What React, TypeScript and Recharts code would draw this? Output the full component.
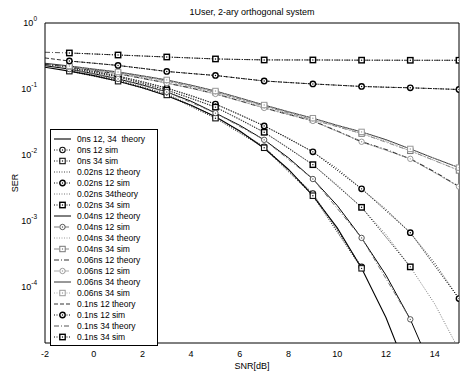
import React from "react";
import { LineChart, Line, XAxis, YAxis, Legend } from "recharts";

const FONT = "'Liberation Sans', Arial, Helvetica, sans-serif";

// SNR grids: theory curves on every dB, simulation on odd dB
const snrTheory = [-2, -1, 0, 1, 2, 3, 4, 5, 6, 7, 8, 9, 10, 11, 12, 13, 14, 15];
const snrSim = [-1, 1, 3, 5, 7, 9, 11, 13, 15];

const xTicks = [-2, 0, 2, 4, 6, 8, 10, 12, 14];
const yTicks = [1e-4, 1e-3, 1e-2, 1e-1, 1];

// 0 ns
const theory0ns = [0.2135, 0.186, 0.159, 0.131, 0.104, 0.079, 0.0565, 0.0377, 0.023, 0.0126, 0.006, 0.0024, 7.8e-4, 1.9e-4, 3.4e-5, 4.0e-6];
const sim0ns12 = [0.192, 0.136, 0.084, 0.038, 0.0133, 0.0026, 2.0e-4];
const sim0ns34 = [0.186, 0.131, 0.081, 0.036, 0.0128, 0.0024, 1.9e-4];

// 0.02 ns
const theory002ns12 = [0.24, 0.215, 0.186, 0.157, 0.13, 0.103, 0.08, 0.059, 0.041, 0.0275, 0.018, 0.0111, 0.0062, 0.00305, 0.0015, 6.6e-4, 2.3e-4, 6.6e-5];
const sim002ns12 = [0.215, 0.157, 0.103, 0.059, 0.0275, 0.0111, 0.00305, 6.6e-4, 6.6e-5];
const theory002ns34 = [0.235, 0.208, 0.18, 0.152, 0.124, 0.096, 0.073, 0.053, 0.035, 0.022, 0.0128, 0.0071, 0.0035, 0.0016, 6.2e-4, 2.0e-4, 5.5e-5, 1.1e-5];
const sim002ns34 = [0.208, 0.152, 0.096, 0.053, 0.022, 0.0071, 0.0016, 2.0e-4];

// 0.04 ns
const theory004ns12 = [0.225, 0.2, 0.17, 0.142, 0.115, 0.09, 0.065, 0.043, 0.028, 0.0169, 0.009, 0.0043, 0.0017, 5.5e-4, 1.5e-4, 3.2e-5, 4.5e-6];
const sim004ns12 = [0.2, 0.142, 0.09, 0.043, 0.0169, 0.0043, 5.5e-4, 3.2e-5];
const theory004ns34 = [0.24, 0.218, 0.196, 0.176, 0.153, 0.132, 0.11, 0.089, 0.07, 0.055, 0.043, 0.034, 0.027, 0.021, 0.016, 0.0115, 0.0082, 0.0058];
const sim004ns34 = [0.218, 0.176, 0.132, 0.089, 0.055, 0.034, 0.021, 0.0115, 0.0058];

// 0.06 ns
const theory006ns12 = [0.235, 0.215, 0.19, 0.169, 0.145, 0.123, 0.103, 0.084, 0.066, 0.0515, 0.041, 0.0327, 0.023, 0.0158, 0.012, 0.0087, 0.0055, 0.0033];
const sim006ns12 = [0.215, 0.169, 0.123, 0.084, 0.0515, 0.0327, 0.0158, 0.0087, 0.0033];
const theory006ns34 = [0.245, 0.223, 0.2, 0.181, 0.158, 0.137, 0.114, 0.093, 0.073, 0.057, 0.045, 0.036, 0.028, 0.0223, 0.017, 0.0123, 0.0088, 0.0064];
const sim006ns34 = [0.223, 0.181, 0.137, 0.093, 0.057, 0.036, 0.0223, 0.0123, 0.0064];

// 0.1 ns
const theory01ns12 = [0.295, 0.265, 0.246, 0.227, 0.205, 0.184, 0.171, 0.16, 0.145, 0.132, 0.125, 0.119, 0.114, 0.109, 0.106, 0.104, 0.101, 0.098];
const sim01ns12 = [0.265, 0.227, 0.184, 0.16, 0.132, 0.119, 0.109, 0.104, 0.098];
const theory01ns34 = [0.36, 0.351, 0.339, 0.327, 0.316, 0.305, 0.295, 0.285, 0.28, 0.276, 0.275, 0.275, 0.274, 0.273, 0.273, 0.272, 0.272, 0.272];
const sim01ns34 = [0.351, 0.327, 0.305, 0.285, 0.275, 0.275, 0.273, 0.272, 0.272];

const DOT = "1 1.5";
const DASHDOT = "5 2 1 2";
const DASH = "4 2";

type Marker = "circle" | "square" | null;
interface Series {
  name: string;
  x: number[];
  y: number[];
  stroke: string;
  width: number;
  dash?: string;
  marker: Marker;
  markerColor?: string;
  markerWidth?: number;
}

const series: Series[] = [
  { name: "0ns 12, 34  theory", x: snrTheory, y: theory0ns, stroke: "#000", width: 1.1, marker: null },
  { name: "0ns 12 sim", x: snrSim, y: sim0ns12, stroke: "#111", width: 1, dash: DOT, marker: "circle", markerColor: "#111", markerWidth: 1.1 },
  { name: "0ns 34 sim", x: snrSim, y: sim0ns34, stroke: "#111", width: 1, dash: DOT, marker: "square", markerColor: "#111", markerWidth: 1.1 },
  { name: "0.02ns 12 theory", x: snrTheory, y: theory002ns12, stroke: "#444", width: 1, dash: DOT, marker: null },
  { name: "0.02ns 12 sim", x: snrSim, y: sim002ns12, stroke: "#000", width: 1, dash: DOT, marker: "circle", markerColor: "#000", markerWidth: 1.4 },
  { name: "0.02ns 34theory", x: snrTheory, y: theory002ns34, stroke: "#777", width: 1, dash: DOT, marker: null },
  { name: "0.02ns 34 sim", x: snrSim, y: sim002ns34, stroke: "#000", width: 1, dash: DOT, marker: "square", markerColor: "#000", markerWidth: 1.4 },
  { name: "0.04ns 12 theory", x: snrTheory, y: theory004ns12, stroke: "#000", width: 1, marker: null },
  { name: "0.04ns 12 sim", x: snrSim, y: sim004ns12, stroke: "#777", width: 1, dash: DASHDOT, marker: "circle", markerColor: "#555", markerWidth: 1 },
  { name: "0.04ns 34 theory", x: snrTheory, y: theory004ns34, stroke: "#999", width: 1, dash: DOT, marker: null },
  { name: "0.04ns 34 sim", x: snrSim, y: sim004ns34, stroke: "#888", width: 1, dash: DASHDOT, marker: "square", markerColor: "#777", markerWidth: 1 },
  { name: "0.06ns 12 theory", x: snrTheory, y: theory006ns12, stroke: "#333", width: 1.2, dash: DASHDOT, marker: null },
  { name: "0.06ns 12 sim", x: snrSim, y: sim006ns12, stroke: "#aaa", width: 1, dash: DASHDOT, marker: "circle", markerColor: "#999", markerWidth: 1 },
  { name: "0.06ns 34 theory", x: snrTheory, y: theory006ns34, stroke: "#333", width: 1, marker: null },
  { name: "0.06ns 34 sim", x: snrSim, y: sim006ns34, stroke: "#aaa", width: 1, dash: DOT, marker: "square", markerColor: "#999", markerWidth: 1 },
  { name: "0.1ns 12 theory", x: snrTheory, y: theory01ns12, stroke: "#333", width: 1, dash: DASH, marker: null },
  { name: "0.1ns 12 sim", x: snrSim, y: sim01ns12, stroke: "#000", width: 1, dash: DOT, marker: "circle", markerColor: "#000", markerWidth: 1.4 },
  { name: "0.1ns 34 theory", x: snrTheory, y: theory01ns34, stroke: "#555", width: 1, dash: DASHDOT, marker: null },
  { name: "0.1ns 34 sim", x: snrSim, y: sim01ns34, stroke: "#000", width: 1, dash: DOT, marker: "square", markerColor: "#000", markerWidth: 1.4 },
];

// minor log ticks 2..9 x 10^k inside the axis range
const yMinorTicks: number[] = [];
for (let k = -5; k <= -1; k++) {
  for (let m = 2; m <= 9; m++) {
    const v = m * Math.pow(10, k);
    if (v >= 1.4e-5) yMinorTicks.push(v);
  }
}

function MarkerShape({ kind, cx, cy, color, width }: { kind: Marker; cx: number; cy: number; color: string; width: number }) {
  if (kind === "circle") {
    return (
      <g>
        <circle cx={cx} cy={cy} r={2.7} fill="#fff" stroke={color} strokeWidth={width} />
        <circle cx={cx} cy={cy} r={0.7} fill={color} />
      </g>
    );
  }
  if (kind === "square") {
    return (
      <g>
        <rect x={cx - 2.7} y={cy - 2.7} width={5.4} height={5.4} fill="#fff" stroke={color} strokeWidth={width} />
        <circle cx={cx} cy={cy} r={0.7} fill={color} />
      </g>
    );
  }
  return null;
}

const makeDot = (s: Series) => (props: any) => {
  const { cx, cy, index } = props;
  if (cx == null || cy == null || !s.marker) return <g key={index} />;
  return (
    <g key={index}>
      <MarkerShape kind={s.marker} cx={cx} cy={cy} color={s.markerColor || "#000"} width={s.markerWidth || 1} />
    </g>
  );
};

const YTickLabel = ({ x, y, payload }: any) => {
  const exp = Math.round(Math.log10(payload.value));
  return (
    <text x={x} y={y} textAnchor="end" fontFamily={FONT} fontSize={9} fill="#000">
      <tspan dy={3}>10</tspan>
      <tspan dy={-5} fontSize={6.5}>{String(exp)}</tspan>
    </text>
  );
};

const LegendBox = () => (
  <div
    style={{
      border: "1px solid #000",
      background: "#fff",
      padding: "3px 4px 3px 2px",
      fontFamily: FONT,
      fontSize: 8.5,
      color: "#000",
    }}
  >
    {series.map((s) => (
      <div key={s.name} style={{ display: "flex", alignItems: "center", height: 11 }}>
        <svg width={20} height={10} style={{ flex: "none" }}>
          <line x1={1} x2={18} y1={5} y2={5} stroke={s.stroke} strokeWidth={s.width} strokeDasharray={s.dash} />
          {s.marker && (
            <MarkerShape kind={s.marker} cx={9.5} cy={5} color={s.markerColor || "#000"} width={s.markerWidth || 1} />
          )}
        </svg>
        <span style={{ marginLeft: 4, whiteSpace: "pre", lineHeight: "10px" }}>{s.name}</span>
      </div>
    ))}
  </div>
);

export default function App() {
  return (
    <div style={{ position: "absolute", left: 0, top: 0, width: 463, height: 372, background: "#fff" }}>
      <LineChart width={463} height={372} margin={{ top: 23, right: 4, bottom: 0, left: 0 }}>
        <XAxis
          xAxisId="b"
          type="number"
          dataKey="snr"
          domain={[-2, 15]}
          ticks={xTicks}
          interval={0}
          allowDataOverflow
          height={29}
          tickLine={false}
          axisLine={{ stroke: "#000" }}
          tick={{ fontSize: 9, fill: "#000", fontFamily: FONT }}
          label={{
            content: (p: any) => (
              <text
                x={p.viewBox.x + p.viewBox.width / 2}
                y={p.viewBox.y + 26}
                textAnchor="middle"
                fontFamily={FONT}
                fontSize={9}
                fill="#000"
              >
                SNR[dB]
              </text>
            ),
          }}
        />
        <XAxis xAxisId="bt" type="number" orientation="bottom" mirror domain={[-2, 15]} ticks={xTicks} interval={0} tick={false} tickSize={4} axisLine={false} tickLine={{ stroke: "#000" }} />
        <XAxis
          xAxisId="t"
          type="number"
          orientation="top"
          mirror
          domain={[-2, 15]}
          ticks={xTicks}
          interval={0}
          tick={false}
          tickSize={4}
          axisLine={{ stroke: "#000" }}
          tickLine={{ stroke: "#000" }}
          label={{
            content: (p: any) => (
              <text
                x={p.viewBox.x + p.viewBox.width / 2}
                y={15}
                textAnchor="middle"
                fontFamily={FONT}
                fontSize={9}
                fill="#000"
              >
                1User, 2-ary orthogonal system
              </text>
            ),
          }}
        />
        <YAxis
          yAxisId="l"
          type="number"
          scale="log"
          domain={[1.4e-5, 1]}
          ticks={yTicks}
          interval={0}
          allowDataOverflow
          width={45}
          tickLine={false}
          axisLine={{ stroke: "#000" }}
          tick={<YTickLabel />}
          label={{
            content: (p: any) => (
              <text
                transform={`translate(18, ${p.viewBox.y + p.viewBox.height / 2}) rotate(-90)`}
                textAnchor="middle"
                fontFamily={FONT}
                fontSize={9}
                fill="#000"
              >
                SER
              </text>
            ),
          }}
        />
        <YAxis yAxisId="lt" type="number" scale="log" domain={[1.4e-5, 1]} allowDataOverflow mirror ticks={yTicks} interval={0} tick={false} tickSize={4} axisLine={false} tickLine={{ stroke: "#000" }} />
        <YAxis yAxisId="lm" type="number" scale="log" domain={[1.4e-5, 1]} allowDataOverflow mirror ticks={yMinorTicks} interval={0} tick={false} tickSize={2} axisLine={false} tickLine={{ stroke: "#000" }} />
        <YAxis yAxisId="r" type="number" scale="log" orientation="right" domain={[1.4e-5, 1]} allowDataOverflow mirror ticks={yTicks} interval={0} tick={false} tickSize={4} axisLine={{ stroke: "#000" }} tickLine={{ stroke: "#000" }} />
        <YAxis yAxisId="rm" type="number" scale="log" orientation="right" domain={[1.4e-5, 1]} allowDataOverflow mirror ticks={yMinorTicks} interval={0} tick={false} tickSize={2} axisLine={false} tickLine={{ stroke: "#000" }} />

        {series.map((s) => (
          <Line
            key={s.name}
            xAxisId="b"
            yAxisId="l"
            data={s.y.map((v, i) => ({ snr: s.x[i], ser: v }))}
            dataKey="ser"
            name={s.name}
            type="linear"
            stroke={s.stroke}
            strokeWidth={s.width}
            strokeDasharray={s.dash}
            dot={s.marker ? makeDot(s) : false}
            activeDot={false}
            isAnimationActive={false}
          />
        ))}

        <Legend
          layout="vertical"
          align="center"
          verticalAlign="middle"
          content={() => <LegendBox />}
          wrapperStyle={{ left: 50, top: 129, width: 108, height: "auto" }}
        />
      </LineChart>
    </div>
  );
}
